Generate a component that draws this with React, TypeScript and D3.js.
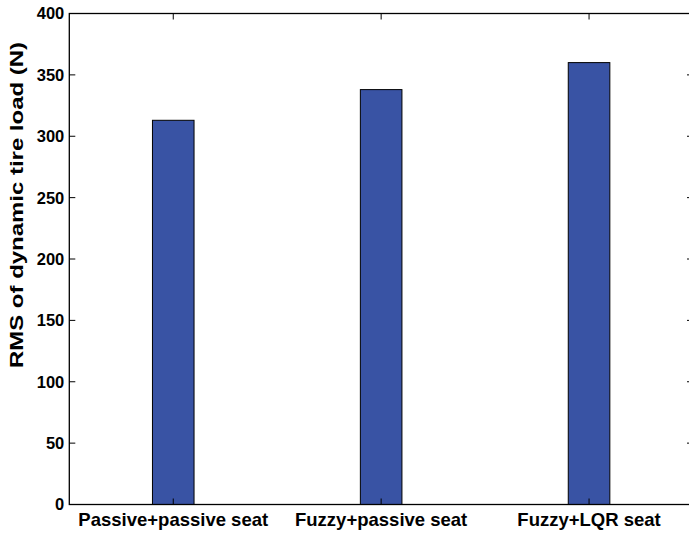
import React from "react";
import * as d3 from "d3";

const categories = ["Passive+passive seat", "Fuzzy+passive seat", "Fuzzy+LQR seat"];
const values = [313, 338, 360];
const yTicks = [0, 50, 100, 150, 200, 250, 300, 350, 400];
const yLabel = "RMS of dynamic tire load (N)";

export default function App() {
  const W = 689, H = 534;
  const left = 69.3, right = 693, top = 13.5, bottom = 504.5;
  const x = d3.scaleLinear().domain([0.5, 3.5]).range([left, right]);
  const y = d3.scaleLinear().domain([0, 400]).range([bottom, top]);
  const barW = x(1.2) - x(1);
  const tl = 6;
  const font = "Liberation Sans, Arial, sans-serif";
  return (
    <svg width={W} height={H} style={{ position: "absolute", left: 0, top: 0, background: "#fff" }}>
      <rect x={0} y={0} width={W} height={H} fill="#fff" />
      {values.map((v, i) => (
        <rect key={i} x={x(i + 1) - barW / 2} y={y(v)} width={barW} height={y(0) - y(v)}
          fill="#3953A4" stroke="#000" strokeWidth={1} />
      ))}
      <rect x={left} y={top} width={right - left} height={bottom - top} fill="none" stroke="#000" strokeWidth={1.3} />
      {yTicks.map((t) => (
        <g key={t}>
          <line x1={left} x2={left + tl} y1={y(t)} y2={y(t)} stroke="#000" />
          <line x1={right} x2={right - tl} y1={y(t)} y2={y(t)} stroke="#000" />
          <text x={left - 5} y={y(t)} dy="0.36em" textAnchor="end" fontFamily={font} fontWeight="bold" fontSize={16.5}>{t}</text>
        </g>
      ))}
      {categories.map((c, i) => (
        <g key={c}>
          <line x1={x(i + 1)} x2={x(i + 1)} y1={bottom} y2={bottom - tl} stroke="#000" />
          <line x1={x(i + 1)} x2={x(i + 1)} y1={top} y2={top + tl} stroke="#000" />
          <text x={x(i + 1)} y={526} textAnchor="middle" fontFamily={font} fontWeight="bold" fontSize={18.5}>{c}</text>
        </g>
      ))}
      <text transform={`translate(23,205) rotate(-90)`} textAnchor="middle" fontFamily={font} fontWeight="bold" fontSize={18}
        textLength={326} lengthAdjust="spacingAndGlyphs">{yLabel}</text>
    </svg>
  );
}
